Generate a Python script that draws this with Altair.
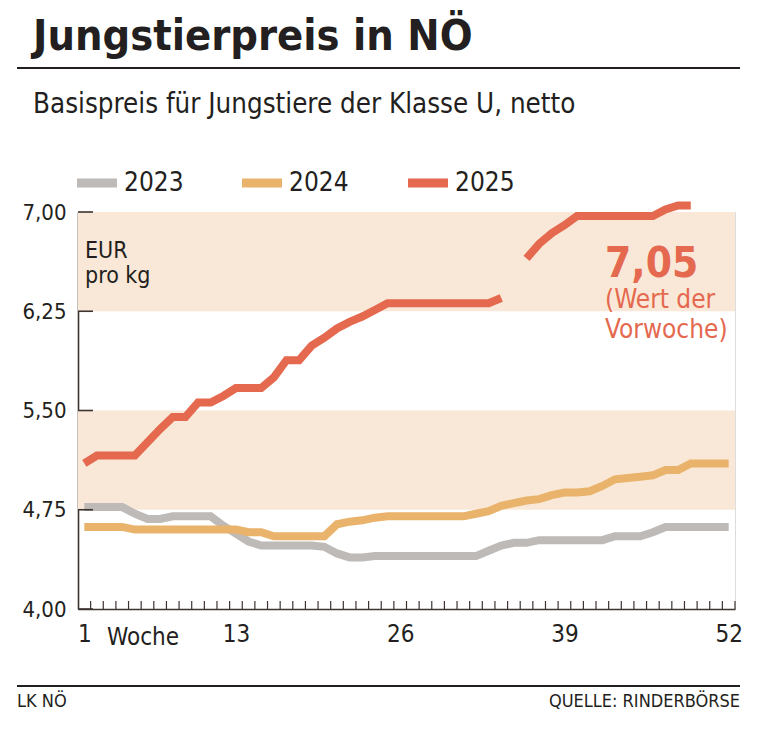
import altair as alt
import pandas as pd

# ---------------- data ----------------
weeks = list(range(1, 53))
years = ["2023", "2024", "2025"]
colors = ["#bdbab8", "#e9b36b", "#e4694f"]

p2023 = [4.77, 4.77, 4.77, 4.77, 4.72, 4.68, 4.68, 4.70, 4.70, 4.70,
         4.70, 4.63, 4.57, 4.51, 4.48, 4.48, 4.48, 4.48, 4.48, 4.47,
         4.42, 4.39, 4.39, 4.40, 4.40, 4.40, 4.40, 4.40, 4.40, 4.40,
         4.40, 4.40, 4.44, 4.48, 4.50, 4.50, 4.52, 4.52, 4.52, 4.52,
         4.52, 4.52, 4.55, 4.55, 4.55, 4.58, 4.62, 4.62, 4.62, 4.62,
         4.62, 4.62]
p2024 = [4.62, 4.62, 4.62, 4.62, 4.60, 4.60, 4.60, 4.60, 4.60, 4.60,
         4.60, 4.60, 4.60, 4.58, 4.58, 4.55, 4.55, 4.55, 4.55, 4.55,
         4.64, 4.66, 4.67, 4.69, 4.70, 4.70, 4.70, 4.70, 4.70, 4.70,
         4.70, 4.72, 4.74, 4.78, 4.80, 4.82, 4.83, 4.86, 4.88, 4.88,
         4.89, 4.93, 4.98, 4.99, 5.00, 5.01, 5.05, 5.05, 5.10, 5.10,
         5.10, 5.10]
p2025 = [5.10, 5.16, 5.16, 5.16, 5.16, 5.26, 5.36, 5.45, 5.45, 5.56,
         5.56, 5.61, 5.67, 5.67, 5.67, 5.75, 5.88, 5.88, 5.99, 6.05,
         6.12, 6.17, 6.21, 6.26, 6.31, 6.31, 6.31, 6.31, 6.31, 6.31,
         6.31, 6.31, 6.31, 6.35, None, 6.65, 6.76, 6.84, 6.90, 6.97,
         6.97, 6.97, 6.97, 6.97, 6.97, 6.97, 7.02, 7.05, 7.05]

y_ticks = [4.00, 4.75, 5.50, 6.25, 7.00]
x_labels = [1, 13, 26, 39, 52]
bands = [(4.75, 5.50), (6.25, 7.00)]

# ---------------- tables ----------------
rows = []
for yr, vals in zip(years, [p2023, p2024, p2025]):
    seg = 0
    for w, v in zip(weeks, vals):
        if v is None:
            seg += 1
            continue
        rows.append({"week": w, "price": v, "year": yr, "seg": f"{yr}-{seg}"})
df = pd.DataFrame(rows)
band_df = pd.DataFrame({"lo": [b[0] for b in bands], "hi": [b[1] for b in bands]})
ytick_df = pd.DataFrame({"v": y_ticks})
xtick_df = pd.DataFrame({"b": [w + 0.5 for w in weeks]})
one = pd.DataFrame({"a": [0]})

FONT = "Liberation Sans Narrow, DejaVu Sans Condensed, sans-serif"
INK = "#231f20"
AXIS = "#3c3431"
BAND = "#f9e8d7"
W, H = 657, 397

xs = alt.Scale(domain=[0.5, 52.5], nice=False, zero=False)
ys = alt.Scale(domain=[4.0, 7.0], nice=False, zero=False)

band_layer = alt.Chart(band_df).mark_rect(color=BAND).encode(
    x=alt.value(0), x2=alt.value(W),
    y=alt.Y("lo:Q", scale=ys), y2="hi:Q")

lines = alt.Chart(df).mark_line(strokeWidth=8, strokeJoin="miter", strokeCap="butt").encode(
    x=alt.X("week:Q", scale=xs,
            axis=alt.Axis(values=x_labels, format="d", title=None, grid=False,
                          ticks=False, tickSize=0, domainColor=AXIS, domainWidth=1.6,
                          labelFont=FONT, labelFontSize=24, labelColor=INK,
                          labelPadding=13)),
    y=alt.Y("price:Q", scale=ys,
            axis=alt.Axis(values=y_ticks, title=None, grid=False, ticks=False, tickSize=0,
                          labelExpr="replace(format(datum.value, '.2f'), '.', ',')",
                          domainColor=AXIS, domainWidth=1.6,
                          labelFont=FONT, labelFontSize=22, labelColor=INK,
                          labelPadding=12)),
    color=alt.Color("year:N", scale=alt.Scale(domain=years, range=colors), legend=None),
    detail="seg:N",
)

ytick_layer = alt.Chart(ytick_df).mark_rule(color=AXIS, strokeWidth=1.6).encode(
    y=alt.Y("v:Q", scale=ys), x=alt.value(0), x2=alt.value(15))
xtick_layer = alt.Chart(xtick_df).mark_rule(color=AXIS, strokeWidth=1.2).encode(
    x=alt.X("b:Q", scale=xs), y=alt.value(H), y2=alt.value(H - 8))


def txt(s, x, y, size, color=INK, weight="normal", align="left"):
    return alt.Chart(one).mark_text(
        text=s, font=FONT, fontSize=size, fontWeight=weight, color=color,
        align=align, baseline="alphabetic").encode(x=alt.value(x), y=alt.value(y))


def hrule(x1, x2, y, width, color=INK):
    return alt.Chart(one).mark_rule(color=color, strokeWidth=width).encode(
        x=alt.value(x1), x2=alt.value(x2), y=alt.value(y))


layers = [band_layer, lines, ytick_layer, xtick_layer]

# header
layers.append(txt("Jungstierpreis in NÖ", -45, -162, 43, weight="bold"))
layers.append(hrule(-61, 662, -144, 2))
layers.append(txt("Basispreis für Jungstiere der Klasse U, netto", -45, -99, 27.5))

# legend
leg_x = [-1, 164, 330]
for yr, col, lx in zip(years, colors, leg_x):
    layers.append(hrule(lx, lx + 40, -29, 9, color=col))
    layers.append(txt(yr, lx + 47, -21, 26))

# annotations inside plot
layers.append(txt("EUR", 7, 46, 23))
layers.append(txt("pro kg", 7, 71, 23))
layers.append(txt("7,05", 527, 65, 42, color=colors[2], weight="bold"))
layers.append(txt("(Wert der", 527, 96, 26, color=colors[2]))
layers.append(txt("Vorwoche)", 527, 126, 26, color=colors[2]))
layers.append(txt("Woche", 29, 433, 24))

# footer
layers.append(hrule(-61, 662, 474, 2))
layers.append(txt("LK NÖ", -61, 495, 18))
layers.append(txt("QUELLE: RINDERBÖRSE", 662, 495, 18, align="right"))

chart = alt.layer(*layers).properties(
    width=W, height=H,
    autosize=alt.AutoSizeParams(type="none"),
    padding={"left": 70, "top": 204, "right": 20, "bottom": 110},
).configure_view(stroke=None).configure(background="white")

chart.save("out.html", embed_options={"renderer": "svg", "actions": False})
